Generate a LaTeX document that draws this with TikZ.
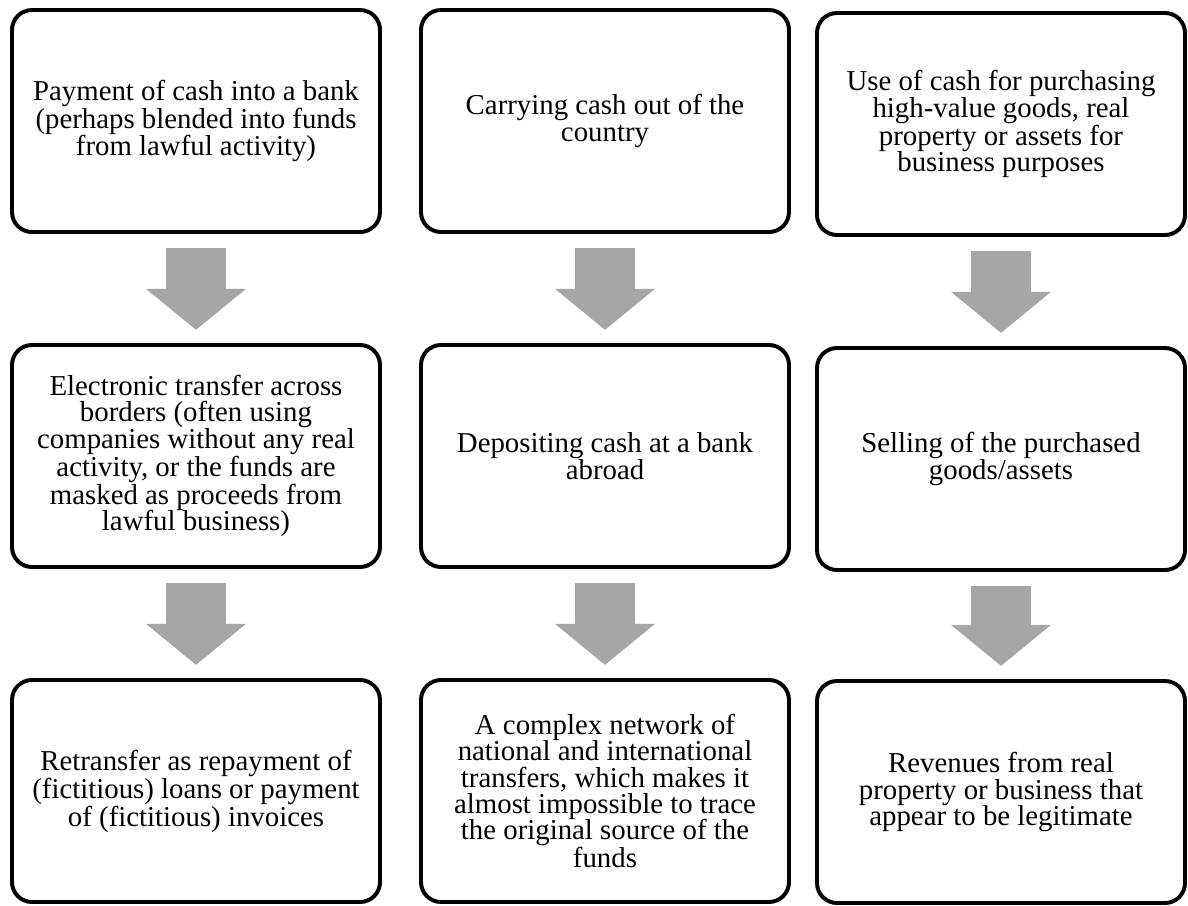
\documentclass[tikz,border=0pt]{standalone}
\usepackage{fontspec}
\setmainfont{Liberation Serif}
\usetikzlibrary{arrows.meta}
\definecolor{flowgray}{HTML}{A6A6A6}
\begin{document}
\begin{tikzpicture}
        [box/.style={rectangle, draw, rounded corners=0.5cm, line width=2.8pt, minimum width=9.2cm, minimum height=5.55cm, align=center, inner sep=0pt, font=\fontsize{20.5}{18.8}\selectfont},
        flow/.style={draw=flowgray, line width=1.5cm, shorten <=0.35cm, shorten >=0.33cm, -{Triangle[width=2.5cm, length=1.025cm, line width=0pt]}}]
        \useasboundingbox (0,0) rectangle (29.7,-22.625);
        % placement
        \node[box] (A1) at (4.9,-3.025) {Payment of cash into a bank\\(perhaps blended into funds\\from lawful activity)};
        \node[box] (A2) at (4.9,-11.4) {Electronic transfer across\\borders (often using\\companies without any real\\activity, or the funds are\\masked as proceeds from\\lawful business)};
        \node[box] (A3) at (4.9,-19.775) {Retransfer as repayment of\\(fictitious) loans or payment\\of (fictitious) invoices};
        \node[box] (B1) at (15.125,-3.025) {Carrying cash out of the\\country};
        \node[box] (B2) at (15.125,-11.4) {Depositing cash at a bank\\abroad};
        \node[box] (B3) at (15.125,-19.775) {A complex network of\\national and international\\transfers, which makes it\\almost impossible to trace\\the original source of the\\funds};
        \node[box] (C1) at (25.025,-3.1) {Use of cash for purchasing\\high-value goods, real\\property or assets for\\business purposes};
        \node[box] (C2) at (25.025,-11.475) {Selling of the purchased\\goods/assets};
        \node[box] (C3) at (25.025,-19.8) {Revenues from real\\property or business that\\appear to be legitimate};

        \draw[flow] (A1) -- (A2);
        \draw[flow] (A2) -- (A3);
        \draw[flow] (B1) -- (B2);
        \draw[flow] (B2) -- (B3);
        \draw[flow] (C1) -- (C2);
        \draw[flow] (C2) -- (C3);
    \end{tikzpicture}
\end{document}
